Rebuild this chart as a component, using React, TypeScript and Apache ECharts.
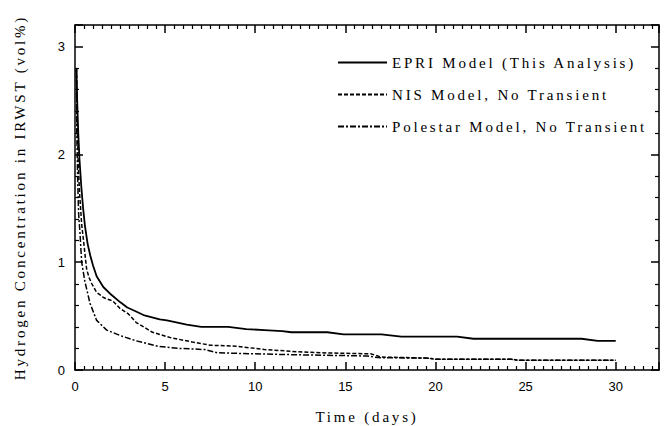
import React, { useEffect, useRef } from "react";
import * as echarts from "echarts";

// ---- Data ----
const seriesNames = [
  "EPRI Model (This Analysis)",
  "NIS Model, No Transient",
  "Polestar Model, No Transient",
];

const epriT = [0.08, 0.12, 0.18, 0.25, 0.35, 0.45, 0.55, 0.7, 0.85, 1.0, 1.2, 1.57, 2.0, 2.5, 2.9, 3.3, 3.8, 4.7, 5.1, 6.2, 7.0, 8.5, 9.5, 10.5, 11.5, 12.0, 14.0, 14.9, 17.0, 18.1, 21.2, 22.1, 28.1, 29.0, 30.0];
const epriV = [2.8, 2.5, 2.2, 1.95, 1.7, 1.5, 1.34, 1.17, 1.06, 0.97, 0.87, 0.77, 0.7, 0.63, 0.58, 0.55, 0.51, 0.47, 0.46, 0.42, 0.4, 0.4, 0.38, 0.37, 0.36, 0.35, 0.35, 0.33, 0.33, 0.31, 0.31, 0.29, 0.29, 0.27, 0.27];

const nisT = [0.08, 0.12, 0.18, 0.25, 0.37, 0.46, 0.55, 0.65, 0.8, 0.93, 1.2, 1.6, 2.1, 2.5, 2.96, 3.4, 4.3, 5.3, 6.5, 7.5, 9.0, 10.5, 12.3, 13.6, 16.4, 17.0, 19.6, 20.0, 24.2, 24.6, 30.0];
const nisV = [2.8, 2.3, 1.9, 1.65, 1.35, 1.22, 1.08, 0.93, 0.85, 0.8, 0.72, 0.67, 0.64, 0.57, 0.52, 0.44, 0.35, 0.3, 0.26, 0.23, 0.22, 0.19, 0.17, 0.16, 0.15, 0.12, 0.11, 0.1, 0.1, 0.09, 0.09];

const polT = [0.08, 0.1, 0.15, 0.2, 0.28, 0.37, 0.55, 0.83, 1.2, 1.76, 2.5, 3.4, 4.6, 5.8, 7.2, 7.9, 9.9, 12.7, 16.2, 16.8, 19.6, 20.0, 24.2, 24.6, 30.0];
const polV = [2.8, 2.2, 1.75, 1.45, 1.26, 1.0, 0.82, 0.62, 0.46, 0.37, 0.32, 0.27, 0.22, 0.2, 0.19, 0.16, 0.15, 0.14, 0.13, 0.115, 0.11, 0.1, 0.1, 0.09, 0.09];

const xTickLabels = ["0", "5", "10", "15", "20", "25", "30"];
const yTickLabels = ["0", "1", "2", "3"];

const xName = "Time (days)";
const yName = "Hydrogen Concentration in IRWST (vol%)";

const pairs = (t: number[], v: number[]) => t.map((x, i) => [x, v[i]]);

const SERIF = "'Liberation Serif', 'Times New Roman', serif";
const SANS = "'Liberation Sans', Arial, sans-serif";
const SPACED = [xName, yName, ...seriesNames];

export default function App() {
  const ref = useRef<HTMLDivElement>(null);

  useEffect(() => {
    if (!ref.current) return;
    const chart = echarts.init(ref.current, undefined, { renderer: "svg" });

    const applySpacing = () => {
      const root = ref.current;
      if (!root) return;
      root.querySelectorAll("text").forEach((t) => {
        const s = (t.textContent || "").trim();
        if (SPACED.includes(s)) t.setAttribute("letter-spacing", "2.8");
      });
    };

    const axisLine = { show: true, onZero: false, lineStyle: { color: "#000", width: 1.5 } };
    const axisTick = { show: true, inside: true, length: 8, lineStyle: { color: "#000", width: 1.5 } };

    const xBase = {
      type: "value" as const,
      min: 0,
      max: 32.4,
      interval: 5,
      axisLine,
      axisTick,
      minorTick: { show: true, splitNumber: 10, length: 4, lineStyle: { color: "#000", width: 1.2 } },
      splitLine: { show: false },
      minorSplitLine: { show: false },
    };
    const yBase = {
      type: "value" as const,
      min: 0,
      max: 3.2,
      interval: 1,
      axisLine,
      axisTick,
      minorTick: { show: true, splitNumber: 5, length: 4, lineStyle: { color: "#000", width: 1.2 } },
      splitLine: { show: false },
      minorSplitLine: { show: false },
    };

    const lineCommon = {
      type: "line" as const,
      showSymbol: false,
      symbol: "none",
      silent: true,
      xAxisIndex: 0,
      yAxisIndex: 0,
    };

    chart.on("finished", applySpacing);

    chart.setOption({
      animation: false,
      backgroundColor: "#fff",
      grid: { left: 75, right: 9, top: 25, bottom: 56, containLabel: false, outerBoundsMode: "none" },
      legend: {
        orient: "vertical",
        left: 337,
        top: 55,
        padding: 0,
        itemWidth: 49,
        itemHeight: 14,
        itemGap: 17,
        selectedMode: false,
        itemStyle: { opacity: 0 },
        textStyle: { fontFamily: SERIF, fontSize: 15, color: "#000" },
        data: seriesNames,
      },
      xAxis: [
        {
          ...xBase,
          position: "bottom",
          name: xName,
          nameLocation: "middle",
          nameGap: 39,
          nameTextStyle: { fontFamily: SERIF, fontSize: 15, color: "#000" },
          axisLabel: {
            show: true,
            margin: 10,
            fontFamily: SANS,
            fontSize: 13,
            color: "#000",
            formatter: (v: number) => (xTickLabels.includes(String(v)) ? String(v) : ""),
          },
        },
        { ...xBase, position: "top", axisLabel: { show: false } },
      ],
      yAxis: [
        {
          ...yBase,
          position: "left",
          name: yName,
          nameLocation: "middle",
          nameGap: 48,
          nameTextStyle: { fontFamily: SERIF, fontSize: 15, color: "#000" },
          axisLabel: {
            show: true,
            margin: 10,
            fontFamily: SANS,
            fontSize: 13,
            color: "#000",
            formatter: (v: number) => (yTickLabels.includes(String(v)) ? String(v) : ""),
          },
        },
        { ...yBase, position: "right", axisLabel: { show: false } },
      ],
      series: [
        {
          ...lineCommon,
          name: seriesNames[0],
          data: pairs(epriT, epriV),
          lineStyle: { color: "#000", width: 1.8, type: "solid" },
          itemStyle: { color: "#000" },
        },
        {
          ...lineCommon,
          name: seriesNames[1],
          data: pairs(nisT, nisV),
          lineStyle: { color: "#000", width: 1.5, type: [4, 2] },
          itemStyle: { color: "#000" },
        },
        {
          ...lineCommon,
          name: seriesNames[2],
          data: pairs(polT, polV),
          lineStyle: { color: "#000", width: 1.5, type: [6, 2, 2, 2] },
          itemStyle: { color: "#000" },
        },
      ],
    });

    applySpacing();
    const timer = window.setTimeout(applySpacing, 50);

    return () => {
      window.clearTimeout(timer);
      chart.dispose();
    };
  }, []);

  return (
    <div
      ref={ref}
      style={{ position: "fixed", left: 0, top: 0, width: 668, height: 426, background: "#fff" }}
    />
  );
}
